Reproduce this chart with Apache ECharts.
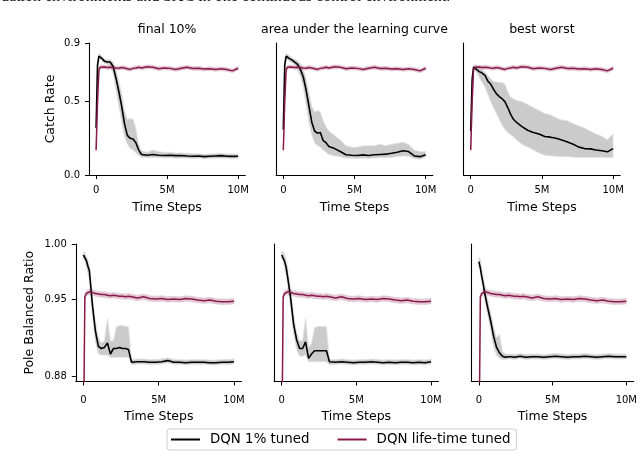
<!DOCTYPE html>
<html><head><meta charset="utf-8">
<script src="https://cdn.jsdelivr.net/npm/echarts@6/dist/echarts.min.js"></script>
<style>html,body{margin:0;padding:0;background:#fff}#c{width:640px;height:455px}</style>
</head><body><div id="c"></div>
<script>
// x positions (millions of time steps)
const steps = [0,0.1,0.2,0.3,0.4, 0.6,0.8,1.0,1.2,1.4,1.6,1.8,2.0,2.2,2.4,2.6,2.8,3.0,3.2, 3.6,4.0,4.4,4.8,5.2,5.6,6.0,6.4,6.8,7.2,7.6,8.0,8.4,8.8,9.2,9.6,10.0];

const panelTitles = ['final 10%', 'area under the learning curve', 'best worst'];
const seriesNames = ['DQN 1% tuned', 'DQN life-time tuned'];
const rowNames = ['Catch Rate', 'Pole Balanced Ratio'];
const xTicks = [0, 5, 10];
const xTickLabels = ['0', '5M', '10M'];
const catchTicks = [0, 0.5, 0.9];
const poleTicks = [0.88, 0.95, 1.0];
const captionText = 'uation environments and SAC in one continuous control environment.';

// DQN life-time tuned (same in every column)
const lifetimeCatchMean = [0.17,0.50,0.72,0.735,0.737, 0.736,0.733,0.735,0.733,0.73,0.728,0.733,0.73,0.725,0.72,0.727,0.73,0.735,0.73, 0.738,0.735,0.725,0.73,0.727,0.72,0.728,0.735,0.726,0.728,0.722,0.725,0.72,0.724,0.72,0.71,0.728];
const lifetimeCatchLow  = [0.16,0.47,0.70,0.72,0.724, 0.723,0.72,0.722,0.72,0.717,0.715,0.72,0.717,0.712,0.707,0.714,0.717,0.722,0.717, 0.725,0.722,0.712,0.717,0.714,0.707,0.715,0.722,0.713,0.715,0.709,0.712,0.707,0.711,0.707,0.697,0.715];
const lifetimeCatchHigh = [0.18,0.53,0.74,0.748,0.75, 0.749,0.746,0.748,0.746,0.743,0.741,0.746,0.743,0.738,0.733,0.74,0.743,0.748,0.743, 0.751,0.748,0.738,0.743,0.74,0.733,0.741,0.748,0.739,0.741,0.735,0.738,0.733,0.737,0.733,0.723,0.741];

const lifetimePoleMean = [0.80,0.952,0.955,0.956,0.9565, 0.956,0.955,0.9545,0.954,0.954,0.9535,0.953,0.9535,0.953,0.9525,0.9525,0.952,0.9525,0.952, 0.951,0.952,0.9505,0.95,0.9505,0.9495,0.95,0.9495,0.9505,0.95,0.949,0.9485,0.949,0.948,0.9475,0.9475,0.948];
const lifetimePoleLow  = [0.79,0.949,0.9525,0.9535,0.954, 0.9535,0.9525,0.952,0.9515,0.9515,0.951,0.9505,0.951,0.9505,0.95,0.95,0.9495,0.95,0.9495, 0.9485,0.9495,0.948,0.9475,0.948,0.947,0.9475,0.947,0.948,0.9475,0.9465,0.946,0.9465,0.9455,0.945,0.945,0.9455];
const lifetimePoleHigh = [0.81,0.955,0.9575,0.9585,0.959, 0.9585,0.9575,0.957,0.9565,0.9565,0.956,0.9555,0.956,0.9555,0.955,0.955,0.9545,0.955,0.9545, 0.9535,0.9545,0.953,0.9525,0.953,0.952,0.9525,0.952,0.953,0.9525,0.9515,0.951,0.9515,0.9505,0.95,0.95,0.9505];

// DQN 1% tuned, Catch
const final10CatchMean = [0.32,0.75,0.81,0.805,0.795, 0.775,0.77,0.77,0.74,0.66,0.57,0.47,0.35,0.27,0.25,0.245,0.22,0.17,0.14, 0.135,0.14,0.135,0.133,0.135,0.132,0.133,0.13,0.128,0.13,0.125,0.128,0.13,0.132,0.128,0.127,0.128];
const final10CatchLow  = [0.30,0.70,0.79,0.79,0.78, 0.76,0.755,0.74,0.69,0.58,0.47,0.36,0.26,0.21,0.18,0.17,0.15,0.135,0.12, 0.118,0.12,0.118,0.117,0.118,0.115,0.116,0.114,0.112,0.114,0.11,0.112,0.114,0.115,0.112,0.111,0.112];
const final10CatchHigh = [0.34,0.79,0.83,0.82,0.81, 0.79,0.785,0.785,0.77,0.72,0.64,0.56,0.44,0.38,0.385,0.38,0.32,0.21,0.165, 0.155,0.17,0.16,0.155,0.155,0.15,0.15,0.148,0.145,0.146,0.142,0.144,0.146,0.148,0.144,0.143,0.144];

const aulcCatchMean = [0.31,0.75,0.81,0.805,0.795, 0.785,0.77,0.755,0.72,0.67,0.58,0.47,0.36,0.30,0.285,0.29,0.235,0.22,0.195, 0.18,0.16,0.138,0.135,0.133,0.137,0.133,0.138,0.14,0.142,0.148,0.155,0.165,0.16,0.13,0.125,0.138];
const aulcCatchLow  = [0.29,0.70,0.79,0.785,0.775, 0.765,0.75,0.72,0.67,0.60,0.48,0.36,0.27,0.22,0.20,0.19,0.17,0.155,0.14, 0.13,0.125,0.115,0.115,0.113,0.115,0.113,0.116,0.118,0.118,0.12,0.125,0.13,0.128,0.11,0.108,0.12];
const aulcCatchHigh = [0.33,0.79,0.83,0.825,0.815, 0.80,0.79,0.78,0.76,0.72,0.66,0.56,0.47,0.43,0.44,0.43,0.37,0.33,0.30, 0.27,0.24,0.20,0.19,0.19,0.20,0.20,0.20,0.21,0.20,0.21,0.215,0.225,0.21,0.17,0.16,0.16];

const bestWorstCatchMean = [0.30,0.65,0.735,0.735,0.72, 0.705,0.695,0.68,0.64,0.62,0.585,0.555,0.535,0.52,0.50,0.46,0.415,0.38,0.36, 0.33,0.305,0.29,0.28,0.262,0.258,0.25,0.238,0.225,0.21,0.19,0.18,0.178,0.17,0.165,0.158,0.18];
const bestWorstCatchLow  = [0.28,0.60,0.72,0.715,0.70, 0.665,0.63,0.60,0.55,0.50,0.46,0.42,0.38,0.34,0.31,0.29,0.275,0.26,0.24, 0.21,0.19,0.17,0.15,0.135,0.13,0.128,0.125,0.125,0.122,0.12,0.12,0.12,0.12,0.12,0.118,0.12];
const bestWorstCatchHigh = [0.32,0.70,0.75,0.75,0.745, 0.73,0.72,0.70,0.68,0.655,0.64,0.635,0.63,0.63,0.62,0.57,0.53,0.52,0.51, 0.50,0.48,0.46,0.44,0.42,0.41,0.39,0.375,0.37,0.35,0.335,0.32,0.30,0.28,0.265,0.24,0.28];

// DQN 1% tuned, Pole balancing
const final10PoleMean = [0.99,0.989,0.985,0.98,0.976, 0.945,0.921,0.907,0.905,0.906,0.91,0.90,0.905,0.905,0.906,0.905,0.905,0.904,0.8925, 0.893,0.893,0.8925,0.8925,0.893,0.894,0.8925,0.8925,0.892,0.8925,0.8925,0.8925,0.892,0.892,0.8925,0.8925,0.893];
const final10PoleLow  = [0.987,0.985,0.979,0.973,0.967, 0.935,0.91,0.90,0.899,0.899,0.899,0.897,0.897,0.897,0.897,0.897,0.897,0.897,0.890, 0.891,0.891,0.8905,0.8905,0.891,0.892,0.8905,0.8905,0.89,0.8905,0.8905,0.8905,0.89,0.89,0.8905,0.8905,0.891];
const final10PoleHigh = [0.993,0.992,0.989,0.985,0.981, 0.953,0.93,0.915,0.91,0.912,0.933,0.912,0.912,0.925,0.926,0.926,0.925,0.925,0.895, 0.8955,0.8955,0.895,0.895,0.8955,0.8965,0.895,0.895,0.8945,0.895,0.895,0.895,0.8945,0.8945,0.895,0.895,0.8955];

const aulcPoleMean = [0.99,0.989,0.984,0.979,0.97, 0.951,0.927,0.913,0.905,0.905,0.911,0.896,0.90,0.903,0.903,0.903,0.903,0.903,0.893, 0.8925,0.893,0.8925,0.892,0.8925,0.8925,0.893,0.8925,0.892,0.8925,0.892,0.8925,0.8925,0.892,0.8925,0.892,0.893];
const aulcPoleLow  = [0.987,0.985,0.977,0.971,0.962, 0.94,0.918,0.904,0.898,0.898,0.899,0.893,0.893,0.893,0.893,0.893,0.893,0.893,0.89, 0.8905,0.891,0.8905,0.89,0.8905,0.8905,0.891,0.8905,0.89,0.8905,0.89,0.8905,0.8905,0.89,0.8905,0.89,0.891];
const aulcPoleHigh = [0.993,0.993,0.99,0.986,0.978, 0.96,0.936,0.92,0.912,0.912,0.933,0.906,0.91,0.924,0.925,0.925,0.925,0.925,0.895, 0.895,0.8955,0.895,0.8945,0.895,0.895,0.8955,0.895,0.8945,0.895,0.8945,0.895,0.895,0.8945,0.895,0.8945,0.8955];

const bestWorstPoleMean = [0.984,0.978,0.97,0.963,0.955, 0.942,0.93,0.916,0.906,0.901,0.898,0.897,0.8975,0.8975,0.897,0.8975,0.898,0.8975,0.897, 0.8975,0.8975,0.897,0.8975,0.898,0.8975,0.897,0.8975,0.8975,0.898,0.8975,0.897,0.8975,0.898,0.8975,0.8975,0.8975];
const bestWorstPoleLow  = [0.98,0.976,0.966,0.957,0.948, 0.935,0.922,0.906,0.899,0.896,0.895,0.895,0.8955,0.8955,0.895,0.8955,0.896,0.8955,0.895, 0.8955,0.8955,0.895,0.8955,0.896,0.8955,0.895,0.8955,0.8955,0.896,0.8955,0.895,0.8955,0.896,0.8955,0.8955,0.8955];
const bestWorstPoleHigh = [0.988,0.986,0.978,0.97,0.963, 0.95,0.938,0.925,0.915,0.918,0.902,0.90,0.90,0.90,0.8995,0.90,0.9005,0.90,0.8995, 0.90,0.90,0.8995,0.90,0.9005,0.90,0.8995,0.90,0.90,0.9005,0.90,0.8995,0.90,0.9005,0.90,0.90,0.90];

const FONT = 'DejaVu Sans';
const BLACK = '#000000';
const PURPLE = '#8a1a4c';

const panels = [
  {row: 0, col: 0, box: [89, 43, 156.2, 132], m: final10CatchMean, lo: final10CatchLow, hi: final10CatchHigh, pm: lifetimeCatchMean, plo: lifetimeCatchLow, phi: lifetimeCatchHigh},
  {row: 0, col: 1, box: [276.2, 43, 156.6, 132], m: aulcCatchMean, lo: aulcCatchLow, hi: aulcCatchHigh, pm: lifetimeCatchMean, plo: lifetimeCatchLow, phi: lifetimeCatchHigh},
  {row: 0, col: 2, box: [463.6, 43, 156.6, 132], m: bestWorstCatchMean, lo: bestWorstCatchLow, hi: bestWorstCatchHigh, pm: lifetimeCatchMean, plo: lifetimeCatchLow, phi: lifetimeCatchHigh},
  {row: 1, col: 0, box: [75.8, 244, 165.7, 137.5], m: final10PoleMean, lo: final10PoleLow, hi: final10PoleHigh, pm: lifetimePoleMean, plo: lifetimePoleLow, phi: lifetimePoleHigh},
  {row: 1, col: 1, box: [274.2, 244, 164.3, 137.5], m: aulcPoleMean, lo: aulcPoleLow, hi: aulcPoleHigh, pm: lifetimePoleMean, plo: lifetimePoleLow, phi: lifetimePoleHigh},
  {row: 1, col: 2, box: [471.5, 244, 165, 137.5], m: bestWorstPoleMean, lo: bestWorstPoleLow, hi: bestWorstPoleHigh, pm: lifetimePoleMean, plo: lifetimePoleLow, phi: lifetimePoleHigh}
];

const grids = [], xAxes = [], yAxes = [], series = [], graphics = [];

function pairs(ys) { return steps.map((x, i) => [x, ys[i]]); }

function band(idx, lo, hi, fill, stroke) {
  return {
    type: 'custom', xAxisIndex: idx, yAxisIndex: idx, clip: true, silent: true, z: 1,
    data: [[steps[0], lo[0]]],
    renderItem: function (params, api) {
      const up = steps.map((x, i) => api.coord([x, hi[i]]));
      const dn = steps.map((x, i) => api.coord([x, lo[i]])).reverse();
      return {type: 'polygon', shape: {points: up.concat(dn)}, style: {fill: fill, stroke: stroke, lineWidth: 0.8}};
    }
  };
}

panels.forEach((p, idx) => {
  grids.push({left: p.box[0], top: p.box[1], width: p.box[2], height: p.box[3], containLabel: false});
  xAxes.push({
    type: 'value', gridIndex: idx, min: -0.5, max: 10.5,
    name: 'Time Steps', nameLocation: 'middle', nameGap: p.row === 0 ? 26 : 29,
    nameTextStyle: {fontFamily: FONT, fontSize: 12.5, color: BLACK},
    axisLine: {show: true, onZero: false, lineStyle: {color: BLACK, width: 1.1}},
    axisTick: {show: true, length: 4, lineStyle: {color: BLACK, width: 1}, customValues: xTicks},
    axisLabel: {show: true, margin: p.row === 0 ? 10 : 14, fontFamily: FONT, fontSize: 10, color: BLACK, customValues: xTicks,
      formatter: v => xTickLabels[xTicks.indexOf(v)]},
    splitLine: {show: false}
  });
  const ticks = p.row === 0 ? catchTicks : poleTicks;
  const first = p.col === 0;
  yAxes.push({
    type: 'value', gridIndex: idx,
    min: p.row === 0 ? 0 : 0.875, max: p.row === 0 ? 0.9 : 1.0,
    name: first ? rowNames[p.row] : '', nameLocation: 'middle', nameGap: p.row === 0 ? 32 : 40,
    nameTextStyle: {fontFamily: FONT, fontSize: 12.5, color: BLACK},
    axisLine: {show: true, onZero: false, lineStyle: {color: BLACK, width: 1.1}},
    axisTick: {show: first, length: 4, lineStyle: {color: BLACK, width: 1}, customValues: ticks},
    axisLabel: {show: first, margin: 9, fontFamily: FONT, fontSize: 10, color: BLACK, customValues: ticks,
      formatter: v => p.row === 0 ? v.toFixed(1) : v.toFixed(2)},
    splitLine: {show: false}
  });
  series.push(band(idx, p.lo, p.hi, '#cbcbcb', '#e4e4e4'));
  series.push(band(idx, p.plo, p.phi, 'rgba(140,26,79,0.24)', 'rgba(220,190,205,0.6)'));
  series.push({type: 'line', name: seriesNames[0], xAxisIndex: idx, yAxisIndex: idx, data: pairs(p.m),
    symbol: 'none', showSymbol: false, clip: true, z: 3, silent: true,
    itemStyle: {color: BLACK}, lineStyle: {color: BLACK, width: 1.6}});
  series.push({type: 'line', name: seriesNames[1], xAxisIndex: idx, yAxisIndex: idx, data: pairs(p.pm),
    symbol: 'none', showSymbol: false, clip: true, z: 4, silent: true,
    itemStyle: {color: PURPLE}, lineStyle: {color: PURPLE, width: 1.5}});
  if (p.row === 0) {
    graphics.push({type: 'text', x: p.box[0] + p.box[2] / 2, y: 30,
      style: {text: panelTitles[p.col], fontFamily: FONT, fontSize: 12.5, fill: BLACK, align: 'center', verticalAlign: 'middle'}});
  }
});

graphics.push({type: 'text', x: 1, y: -3.5,
  style: {text: captionText, fontFamily: 'Liberation Serif', fontSize: 16, fill: '#111', align: 'left', verticalAlign: 'middle'}});

const chart = echarts.init(document.getElementById('c'), null, {renderer: 'canvas'});
chart.setOption({
  animation: false,
  backgroundColor: '#ffffff',
  grid: grids, xAxis: xAxes, yAxis: yAxes, series: series, graphic: graphics,
  legend: {
    data: seriesNames, left: 167, top: 429, orient: 'horizontal',
    padding: [4, 6, 4, 4], itemGap: 28, itemWidth: 29, itemHeight: 2, icon: 'rect',
    borderColor: '#cccccc', borderWidth: 1, borderRadius: 3,
    formatter: name => '{t|' + name + '}',
    textStyle: {fontFamily: FONT, fontSize: 13.4, color: BLACK,
      rich: {t: {fontFamily: FONT, fontSize: 13.4, color: BLACK, padding: [0, 0, 0, 5]}}},
    selectedMode: false
  }
});
</script></body></html>
